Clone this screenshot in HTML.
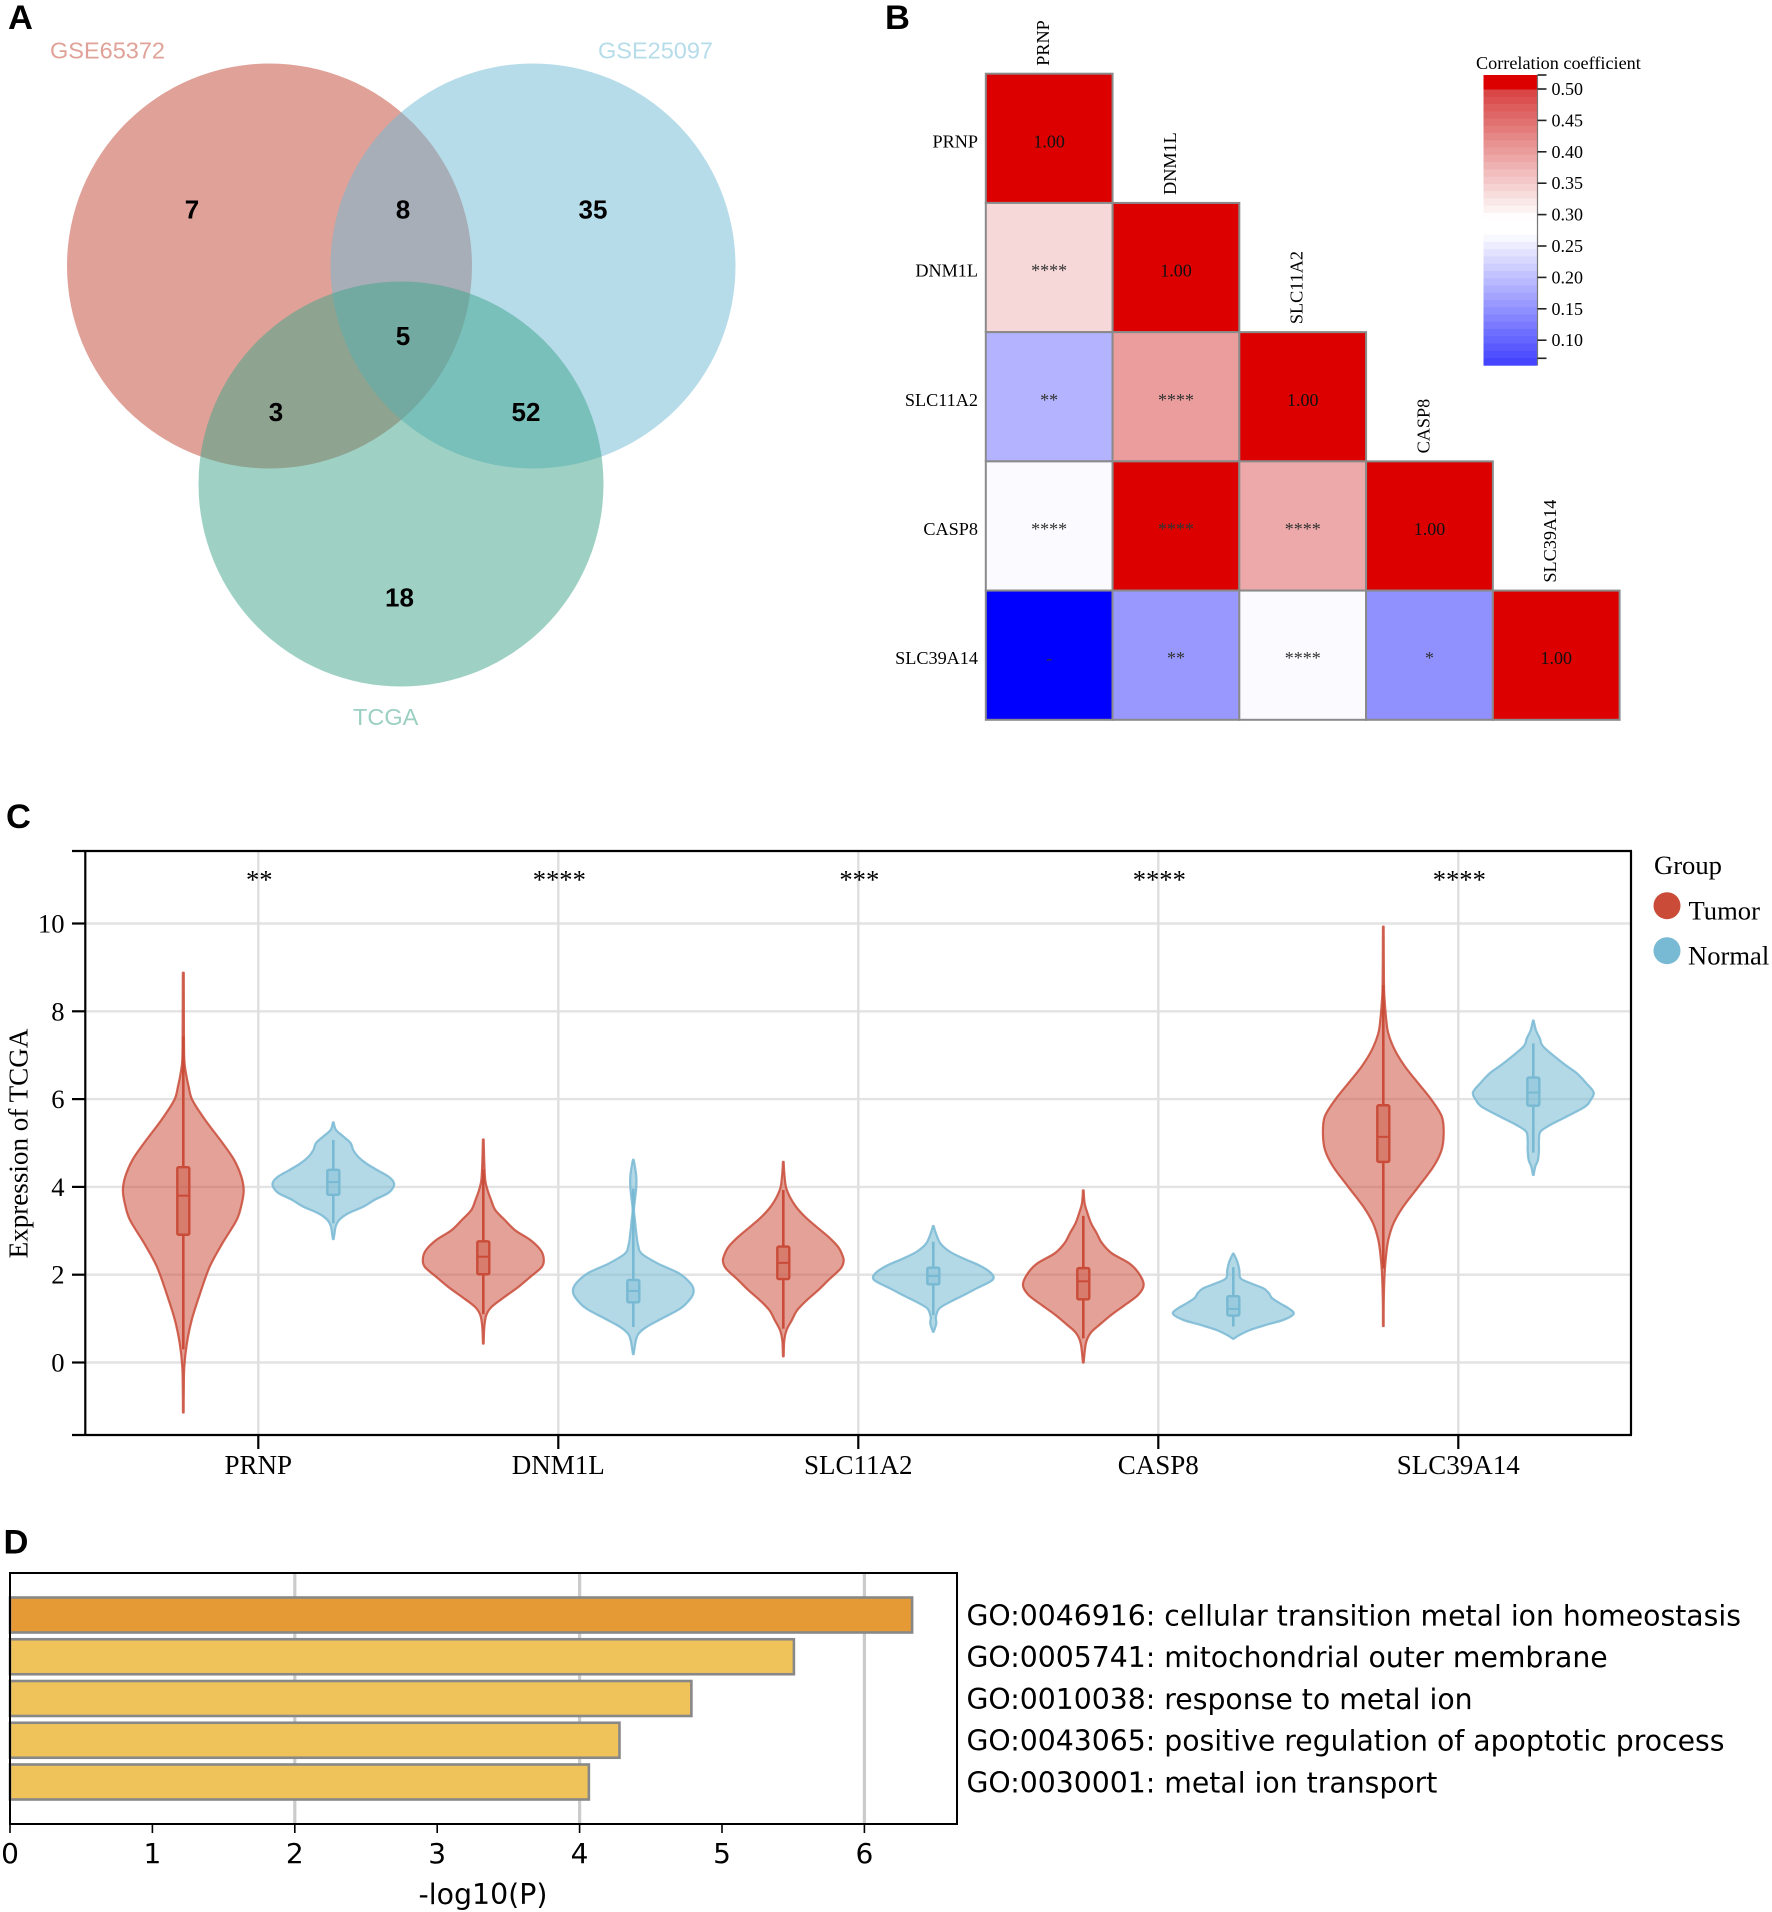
<!DOCTYPE html>
<html lang="en">
<head>
<meta charset="utf-8">
<title>Multi-panel figure: Venn, correlation heatmap, violins, GO enrichment</title>
<style>
html,body{margin:0;padding:0;background:#fff;}
svg{display:block;position:absolute;left:0;top:0;}
.serif{font-family:"Liberation Serif",serif;}
.sans{font-family:"Liberation Sans",sans-serif;}
.dejavu{font-family:"DejaVu Sans",sans-serif;}
</style>
</head>
<body>
<svg id="figure" xmlns="http://www.w3.org/2000/svg" width="1772" height="1912" viewBox="0 0 1772 1912">
  <rect width="1772" height="1912" fill="#ffffff"/>

  <g class="sans">
    <text x="8" y="29" font-size="34.5" font-weight="700">A</text>
    <circle cx="269.5" cy="266" r="202.5" fill="#c14531" fill-opacity="0.5"/>
    <circle cx="533" cy="266" r="202.5" fill="#6db9d5" fill-opacity="0.5"/>
    <circle cx="401" cy="484" r="202.5" fill="#3ea38a" fill-opacity="0.5"/>
    <text x="50" y="58.5" font-size="23.5" fill="#e0a298">GSE65372</text>
    <text x="598" y="58.5" font-size="23.5" fill="#b6dcea">GSE25097</text>
    <text x="353" y="725" font-size="23.5" fill="#9bcfc2">TCGA</text>
    <g font-size="26" font-weight="700" text-anchor="middle" fill="#000">
      <text x="192" y="218.5">7</text>
      <text x="403" y="218.5">8</text>
      <text x="593" y="218.5">35</text>
      <text x="403" y="345">5</text>
      <text x="276" y="421">3</text>
      <text x="526" y="421">52</text>
      <text x="399.5" y="606.5">18</text>
    </g>
  </g>

  <g id="panelB" class="serif">
    <text x="885" y="29" font-size="34.5" font-weight="700" font-family="Liberation Sans, sans-serif">B</text>
    <text x="1476" y="69" font-size="18.2">Correlation coefficient</text>
  </g>

  <g id="panelC" class="serif">
    <text x="6" y="828" font-size="34.5" font-weight="700" font-family="Liberation Sans, sans-serif">C</text>
    <text transform="translate(27.5 1143.5) rotate(-90)" text-anchor="middle" font-size="27.1">Expression of TCGA</text>
    <text x="1654" y="874" font-size="26.6">Group</text>
    <circle cx="1667" cy="905.7" r="13.5" fill="#c94b38"/>
    <text x="1688.5" y="919.5" font-size="26.6">Tumor</text>
    <circle cx="1667" cy="950.7" r="13.5" fill="#78b9d3"/>
    <text x="1688" y="964.5" font-size="26.6">Normal</text>
  </g>

  <g id="panelD" class="dejavu">
    <text x="3.5" y="1553.5" font-size="34.5" font-weight="700" font-family="Liberation Sans, sans-serif">D</text>
    <text x="483" y="1904" text-anchor="middle" font-size="28.4">-log10(P)</text>
  </g>
</svg>

<script>
/* ---------- Panel B data ---------- */
var heatmapGenes = ["PRNP", "DNM1L", "SLC11A2", "CASP8", "SLC39A14"];
var correlationRows = [
  [1.00],
  [0.337, 1.00],
  [0.186, 0.400, 1.00],
  [0.266, 0.520, 0.387, 1.00],
  [0.050, 0.157, 0.266, 0.148, 1.00]
];
var significanceRows = [
  [""],
  ["****", ""],
  ["**", "****", ""],
  ["****", "****", "****", ""],
  ["-", "**", "****", "*", ""]
];
var colorbarTicks = [0.50, 0.45, 0.40, 0.35, 0.30, 0.25, 0.20, 0.15, 0.10];

/* ---------- Panel C data ---------- */
var violinGenes = ["PRNP", "DNM1L", "SLC11A2", "CASP8", "SLC39A14"];
var violinStars = ["**", "****", "***", "****", "****"];
var yTickValues = [0, 2, 4, 6, 8, 10];

var tumorLevels = [
  [8.88,7.43,6.89,6.59,6.29,5.98,5.53,5.0,4.62,4.24,3.93,3.63,3.25,2.72,2.19,1.58,0.97,0.44,-0.09,-0.70,-1.14],
  [5.08,4.53,4.15,3.93,3.70,3.47,3.24,3.01,2.79,2.56,2.37,2.18,1.95,1.72,1.50,1.27,1.08,0.81,0.43],
  [4.57,4.31,4.0,3.77,3.55,3.32,3.09,2.86,2.63,2.44,2.31,2.14,1.88,1.65,1.42,1.19,0.96,0.74,0.51,0.14],
  [3.92,3.63,3.40,3.17,2.95,2.72,2.49,2.26,2.03,1.77,1.54,1.31,1.09,0.86,0.67,0.44,0],
  [9.93,8.64,8.26,7.80,7.50,7.12,6.74,6.36,5.98,5.60,5.22,4.84,4.46,4.0,3.55,3.17,2.79,2.41,2.03,1.42,0.83]
];
var tumorDensity = [
  [.008,.011,.017,.044,.088,.15,.36,.65,.84,.96,1,.97,.885,.65,.44,.28,.14,.06,.017,.008,.006],
  [.006,.017,.033,.07,.13,.2,.36,.53,.78,.95,1,.97,.78,.58,.36,.14,.05,.017,.006],
  [.006,.017,.044,.11,.21,.36,.55,.75,.91,.98,1,.95,.75,.58,.39,.23,.14,.055,.017,.006],
  [.006,.022,.07,.13,.22,.31,.47,.76,.92,1,.91,.69,.47,.27,.12,.044,.006],
  [.006,.011,.022,.05,.083,.19,.36,.58,.80,.97,1,.965,.83,.58,.33,.17,.083,.044,.022,.008,.006]
];
var normalLevels = [
  [5.47,5.30,5.15,5.0,4.84,4.69,4.54,4.39,4.24,4.12,4.01,3.86,3.71,3.55,3.40,3.25,3.10,2.95,2.81],
  [4.62,4.46,4.23,4.0,3.77,3.47,3.24,2.94,2.67,2.48,2.26,2.03,1.80,1.63,1.46,1.23,1.0,0.81,0.66,0.51,0.19],
  [3.11,2.94,2.71,2.52,2.37,2.22,2.07,1.94,1.84,1.69,1.53,1.38,1.23,1.04,0.89,0.70],
  [2.48,2.30,2.11,1.92,1.81,1.69,1.58,1.47,1.35,1.24,1.11,0.97,0.86,0.74,0.63,0.54],
  [7.79,7.57,7.38,7.19,6.81,6.59,6.36,6.15,5.98,5.83,5.60,5.41,5.26,5.07,4.84,4.61,4.46,4.27]
];
var normalDensity = [
  [.006,.044,.166,.287,.33,.41,.54,.72,.91,.995,1,.91,.69,.50,.25,.10,.04,.022,.006],
  [.006,.028,.05,.05,.033,.011,.028,.05,.08,.14,.40,.76,.95,1,.95,.78,.47,.22,.09,.044,.006],
  [.006,.044,.12,.28,.50,.75,.93,1,.94,.72,.50,.28,.10,.044,.05,.006],
  [.006,.066,.10,.12,.28,.50,.59,.64,.77,.91,1,.83,.55,.28,.11,.006],
  [.006,.044,.11,.17,.50,.72,.88,1,.95,.86,.55,.28,.12,.094,.094,.077,.033,.006]
];
var tumorQ1 = [2.91, 2.01, 1.90, 1.44, 4.57];
var tumorMedian = [3.80, 2.41, 2.27, 1.85, 5.14];
var tumorQ3 = [4.45, 2.76, 2.64, 2.15, 5.86];
var tumorLow = [0.30, 1.10, 0.77, 0.55, 2.14];
var tumorHigh = [7.43, 4.40, 3.93, 3.34, 8.60];
var normalQ1 = [3.82, 1.37, 1.78, 1.07, 5.85];
var normalMedian = [4.11, 1.63, 1.97, 1.22, 6.15];
var normalQ3 = [4.39, 1.88, 2.16, 1.51, 6.49];
var normalLow = [3.17, 0.81, 1.08, 0.82, 4.78];
var normalHigh = [5.07, 3.96, 2.75, 2.17, 7.27];

/* ---------- Panel D data ---------- */
var goTerms = [
  "GO:0046916: cellular transition metal ion homeostasis",
  "GO:0005741: mitochondrial outer membrane",
  "GO:0010038: response to metal ion",
  "GO:0043065: positive regulation of apoptotic process",
  "GO:0030001: metal ion transport"
];
var goValues = [6.335, 5.505, 4.785, 4.28, 4.065];
var goTickValues = [0, 1, 2, 3, 4, 5, 6];
var goGridValues = [2, 4, 6];

/* ---------- helpers ---------- */
var NS = "http://www.w3.org/2000/svg";
function make(tag, parent, attrs, text) {
  var node = document.createElementNS(NS, tag);
  for (var k in attrs) { node.setAttribute(k, attrs[k]); }
  if (text !== undefined) { node.textContent = text; }
  parent.appendChild(node);
  return node;
}
function slug(s) {
  return String(s).toLowerCase().replace(/[^a-z0-9]+/g, "-").replace(/^-|-$/g, "");
}
function correlationColor(r) {
  var t, a, b;
  if (r >= 0.5) { return "rgb(220,0,0)"; }
  if (r < 0.06) { return "rgb(0,0,255)"; }
  if (r >= 0.295) {
    t = Math.min(1, (r - 0.295) / 0.205);
    a = Math.round(255 - t * 40);
    b = Math.round(255 - t * 191);
    return "rgb(" + a + "," + b + "," + b + ")";
  }
  if (r >= 0.27) { return "rgb(255,255,255)"; }
  t = Math.min(1, (0.27 - r) / 0.21);
  b = Math.round(255 - t * 191);
  return "rgb(" + b + "," + b + ",255)";
}

/* ---------- Panel B ---------- */
(function () {
  var g = document.getElementById("panelB");
  var x0 = 985.8, y0 = 73.7, cw = 126.76, ch = 129.22;
  heatmapGenes.forEach(function (gene, i) {
    var cy = y0 + ch * i + ch / 2;
    var cxTop = x0 + cw * i + cw / 2;
    var rowLabel = make("text", g, { x: 978, y: cy + 9, "text-anchor": "end", "font-size": 18.2 }, gene);
    
    
    var colLabel = make("text", g, { transform: "translate(" + cxTop + " " + (y0 + ch * i - 8) + ") rotate(-90)", "font-size": 18.2 }, gene);
    
    
    correlationRows[i].forEach(function (value, j) {
      var cell = make("rect", g, { x: x0 + cw * j, y: y0 + ch * i, width: cw, height: ch, fill: correlationColor(value), stroke: "#8a8a8a", "stroke-width": 2 });
      
      
    });
  });
  heatmapGenes.forEach(function (gene, i) {
    var cy = y0 + ch * i + ch / 2;
    correlationRows[i].forEach(function (value, j) {
      var label = i === j ? value.toFixed(2) : significanceRows[i][j];
      var cellText = make("text", g, { x: x0 + cw * j + cw / 2, y: cy + 9, "text-anchor": "middle", "font-size": 18, fill: i === j ? "#111" : "#333" }, label);
      
      
    });
  });
  /* colorbar */
  var barX = 1483.5, barW = 54, barTop = 75, barBottom = 365.3, bandCount = 40;
  function barY(v) { return 89 + (0.5 - v) * 628; }
  var bandH = (barBottom - barTop) / bandCount;
  for (var b = 0; b < bandCount; b++) {
    var midY = barTop + bandH * (b + 0.5);
    var v = 0.5 - (midY - 89) / 628;
    var band = make("rect", g, { x: barX, y: barTop + bandH * b, width: barW, height: bandH + 0.4, fill: correlationColor(v) });
    
    
  }
  var barEdge = make("line", g, { x1: barX + barW, x2: barX + barW, y1: barTop, y2: barBottom, stroke: "#777", "stroke-width": 1.2 });
  
  
  colorbarTicks.forEach(function (tick) {
    var ty = barY(tick);
    var mark = make("line", g, { x1: barX + barW, x2: barX + barW + 9, y1: ty, y2: ty, stroke: "#222", "stroke-width": 1.6 });
    
    
    var tickText = make("text", g, { x: 1551.5, y: ty + 6, "font-size": 18 }, tick.toFixed(2));
    
    
  });
  [75, 358.3].forEach(function (ty) {
    var endMark = make("line", g, { x1: barX + barW, x2: barX + barW + 9, y1: ty, y2: ty, stroke: "#222", "stroke-width": 1.6 });
    
    
  });
})();

/* ---------- Panel C ---------- */
(function () {
  var g = document.getElementById("panelC");
  var left = 85.3, right = 1631, top = 851, bottom = 1435, tickLeft = 72;
  var firstTick = 258.3, tickStep = 300, groupOffset = 75, maxHalfWidth = 60.4;
  function yScale(v) { return 1362.5 - 43.9 * v; }
  function xScale(i) { return firstTick + tickStep * i; }
  var RED = "#c94b38", BLUE = "#78b9d3";

  yTickValues.forEach(function (t) {
    var y = yScale(t);
    var grid = make("line", g, { x1: left, x2: right, y1: y, y2: y, stroke: "#e3e3e3", "stroke-width": 2.4 });
    
    
    var tick = make("line", g, { x1: tickLeft, x2: left, y1: y, y2: y, stroke: "#000", "stroke-width": 2.2 });
    
    
    var label = make("text", g, { x: 64.5, y: y + 9, "text-anchor": "end", "font-size": 26.6 }, String(t));
    
    
  });
  violinGenes.forEach(function (gene, i) {
    var x = xScale(i);
    var grid = make("line", g, { x1: x, x2: x, y1: top, y2: bottom, stroke: "#dfdfdf", "stroke-width": 2.4 });
    
    
    var tick = make("line", g, { x1: x, x2: x, y1: bottom, y2: bottom + 14, stroke: "#000", "stroke-width": 2.2 });
    
    
    var label = make("text", g, { x: x, y: 1474, "text-anchor": "middle", "font-size": 27 }, gene);
    
    
    var star = make("text", g, { x: x + 1, y: 888.5, "text-anchor": "middle", "font-size": 26.6 }, violinStars[i]);
    
    
  });

  function smooth(points) {
    var d = "";
    for (var i = 0; i < points.length - 1; i++) {
      var p0 = points[Math.max(0, i - 1)], p1 = points[i], p2 = points[i + 1], p3 = points[Math.min(points.length - 1, i + 2)];
      var c1x = p1[0] + (p2[0] - p0[0]) / 6, c1y = p1[1] + (p2[1] - p0[1]) / 6;
      var c2x = p2[0] - (p3[0] - p1[0]) / 6, c2y = p2[1] - (p3[1] - p1[1]) / 6;
      d += "C" + c1x.toFixed(2) + " " + c1y.toFixed(2) + " " + c2x.toFixed(2) + " " + c2y.toFixed(2) + " " + p2[0].toFixed(2) + " " + p2[1].toFixed(2);
    }
    return d;
  }
  function drawViolin(cx, levels, density, q1, med, q3, low, high, color, fillOpacity, name) {
    var rightSide = levels.map(function (v, k) { return [cx + density[k] * maxHalfWidth, yScale(v)]; });
    var leftSide = levels.map(function (v, k) { return [cx - density[k] * maxHalfWidth, yScale(v)]; }).reverse();
    var d = "M" + rightSide[0][0].toFixed(2) + " " + rightSide[0][1].toFixed(2) + smooth(rightSide) +
      "L" + leftSide[0][0].toFixed(2) + " " + leftSide[0][1].toFixed(2) + smooth(leftSide) + "Z";
    var body = make("path", g, { d: d, fill: color, "fill-opacity": fillOpacity, stroke: color, "stroke-opacity": 0.85, "stroke-width": 2.2, "stroke-linejoin": "round" });
    
    
    var upper = make("line", g, { x1: cx, x2: cx, y1: yScale(high), y2: yScale(q3), stroke: color, "stroke-width": 2.6 });
    
    
    var lower = make("line", g, { x1: cx, x2: cx, y1: yScale(q1), y2: yScale(low), stroke: color, "stroke-width": 2.6 });
    
    
    var box = make("rect", g, { x: cx - 6, y: yScale(q3), width: 12, height: yScale(q1) - yScale(q3), rx: 1.5, fill: color, "fill-opacity": 0.42, stroke: color, "stroke-width": 2.4 });
    
    
    var median = make("line", g, { x1: cx - 6, x2: cx + 6, y1: yScale(med), y2: yScale(med), stroke: color, "stroke-width": 2 });
    
    
  }
  violinGenes.forEach(function (gene, i) {
    drawViolin(xScale(i) - groupOffset, tumorLevels[i], tumorDensity[i], tumorQ1[i], tumorMedian[i], tumorQ3[i], tumorLow[i], tumorHigh[i], RED, 0.52, slug(gene) + "-tumor");
    drawViolin(xScale(i) + groupOffset, normalLevels[i], normalDensity[i], normalQ1[i], normalMedian[i], normalQ3[i], normalLow[i], normalHigh[i], BLUE, 0.56, slug(gene) + "-normal");
  });

  var spineTop = make("line", g, { x1: tickLeft, x2: right + 1, y1: top, y2: top, stroke: "#000", "stroke-width": 2.2 });
  
  
  var spineBottom = make("line", g, { x1: tickLeft, x2: right + 1, y1: bottom, y2: bottom, stroke: "#000", "stroke-width": 2.2 });
  
  
  var spineLeft = make("line", g, { x1: left, x2: left, y1: top, y2: bottom, stroke: "#000", "stroke-width": 2.2 });
  
  
  var spineRight = make("line", g, { x1: right, x2: right, y1: top, y2: bottom, stroke: "#000", "stroke-width": 2.2 });
  
  
})();

/* ---------- Panel D ---------- */
(function () {
  var g = document.getElementById("panelD");
  var left = 10, right = 957, top = 1573, bottom = 1824;
  var barHeight = 35, firstCenter = 1615, rowStep = 41.75;
  function xScale(v) { return 10 + 142.4 * v; }
  goGridValues.forEach(function (t) {
    var grid = make("line", g, { x1: xScale(t), x2: xScale(t), y1: top, y2: bottom, stroke: "#cbcbcb", "stroke-width": 3.2 });
    
    
  });
  goValues.forEach(function (value, i) {
    var cy = firstCenter + rowStep * i;
    var bar = make("rect", g, { x: left, y: cy - barHeight / 2, width: xScale(value) - left, height: barHeight, fill: i === 0 ? "#e59a35" : "#f0c35a", stroke: "#888888", "stroke-width": 2.6 });
    
    
    var label = make("text", g, { x: 966.5, y: cy + 10.3, "font-size": 28.3 }, goTerms[i]);
    
    
  });
  goTickValues.forEach(function (t) {
    var tick = make("line", g, { x1: xScale(t), x2: xScale(t), y1: bottom, y2: bottom + 9, stroke: "#000", "stroke-width": 1.6 });
    
    
    var label = make("text", g, { x: xScale(t), y: 1863, "text-anchor": "middle", "font-size": 28 }, String(t));
    
    
  });
  var frame = make("rect", g, { x: left, y: top, width: right - left, height: bottom - top, fill: "none", stroke: "#000", "stroke-width": 2 });
  
  
})();
</script>
</body>
</html>
